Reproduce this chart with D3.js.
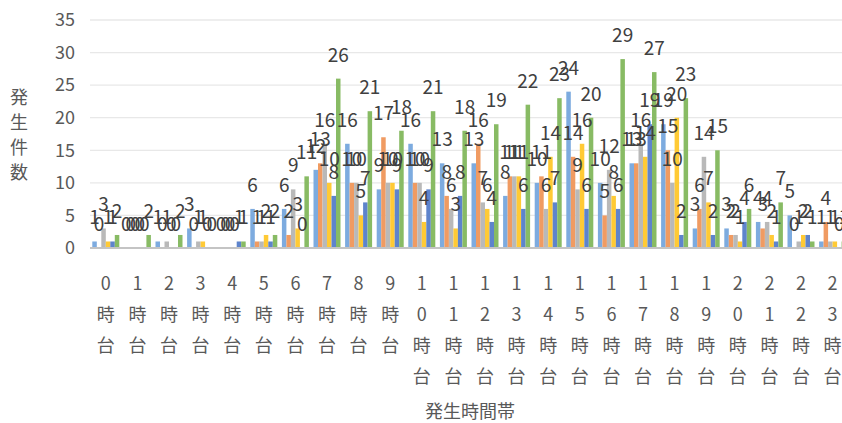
<!DOCTYPE html>
<html>
<head>
<meta charset="utf-8">
<script src="https://cdn.jsdelivr.net/npm/d3@7"></script>
<style>
body { margin: 0; background: #fff; }
svg { display: block; font-family: "Noto Sans CJK JP", "Noto Sans", sans-serif; }
</style>
</head>
<body>
<div id="chart"></div>
<script>
// hours 0..23
var hours = d3.range(24).map(function(h) { return h + "時台"; });
var yTicks = [0, 5, 10, 15, 20, 25, 30, 35];

var s1 = [1, 0, 1, 3, 0, 6, 6, 12, 16, 9, 16, 13, 13, 8, 10, 24, 10, 13, 19, 3, 3, 4, 5, 1];
var s2 = [0, 0, 0, 0, 0, 1, 2, 13, 10, 17, 10, 8, 16, 11, 11, 14, 5, 13, 15, 6, 2, 3, 0, 4];
var s3 = [3, 0, 1, 1, 0, 1, 9, 16, 10, 10, 10, 6, 7, 11, 6, 9, 12, 16, 10, 14, 2, 4, 1, 1];
var s4 = [1, 0, 0, 1, 0, 2, 3, 10, 5, 10, 4, 3, 6, 11, 14, 16, 8, 14, 20, 7, 1, 2, 2, 1];
var s5 = [1, 0, 0, 0, 1, 1, 0, 8, 7, 9, 9, 8, 4, 6, 7, 6, 6, 19, 2, 2, 4, 1, 2, 0];
var s6 = [2, 2, 2, 0, 1, 2, 11, 26, 21, 18, 21, 18, 19, 22, 23, 20, 29, 27, 23, 15, 6, 7, 1, 1];

var series = [s1, s2, s3, s4, s5, s6];
var colors = ["#7DABDF", "#F09B62", "#B9B9B9", "#FFCA35", "#5E84CC", "#88BB64"];

var width = 842, height = 423;
var svg = d3.select("#chart").append("svg")
    .attr("width", width)
    .attr("height", height);

var x = d3.scaleBand()
    .domain(hours)
    .range([90, 90 + 24 * 31.6]);

var xs = d3.scaleBand()
    .domain(d3.range(series.length))
    .range([2.3, x.bandwidth() - 2.3]);

var y = d3.scaleLinear()
    .domain([0, 35])
    .range([248, 20]);

// gridlines
svg.append("g")
    .selectAll("line")
    .data(yTicks.slice(1))
    .join("line")
    .attr("x1", 90)
    .attr("x2", width)
    .attr("y1", function(d) { return y(d); })
    .attr("y2", function(d) { return y(d); })
    .attr("stroke", "#E8E8E8")
    .attr("stroke-width", 1.3);

// y axis labels
svg.append("g")
    .selectAll("text")
    .data(yTicks)
    .join("text")
    .attr("x", 75)
    .attr("y", function(d) { return y(d); })
    .attr("dy", "0.35em")
    .attr("text-anchor", "end")
    .attr("font-size", 18)
    .attr("fill", "#595959")
    .text(function(d) { return d; });

// bars
var groups = svg.append("g")
    .selectAll("g")
    .data(series)
    .join("g")
    .attr("fill", function(d, i) { return colors[i]; });

groups.selectAll("rect")
    .data(function(d, i) { return d.map(function(v, j) { return { s: i, h: hours[j], v: v }; }); })
    .join("rect")
    .attr("x", function(d) { return x(d.h) + xs(d.s); })
    .attr("width", xs.bandwidth())
    .attr("y", function(d) { return y(d.v); })
    .attr("height", function(d) { return y(0) - y(d.v); });

// baseline
svg.append("line")
    .attr("x1", 90).attr("x2", width)
    .attr("y1", y(0)).attr("y2", y(0))
    .attr("stroke", "#C4C4C4")
    .attr("stroke-width", 2.2);

// data labels
var labels = svg.append("g");
series.forEach(function(s, i) {
  labels.selectAll("text.s" + i)
    .data(s)
    .join("text")
    .attr("class", "s" + i)
    .attr("x", function(d, j) { return x(hours[j]) + xs(i) + xs.bandwidth() / 2; })
    .attr("y", function(d) { return y(d) - 17; })
    .attr("text-anchor", "middle")
    .attr("font-size", 19)
    .attr("fill", "#404040")
    .text(function(d) { return d; });
});

// x tick labels, one character per line
var tick = svg.append("g")
    .selectAll("text")
    .data(hours)
    .join("text")
    .attr("text-anchor", "middle")
    .attr("font-size", 18)
    .attr("fill", "#595959");

tick.selectAll("tspan")
    .data(function(d) { return d.split("").map(function(c, k) { return { c: c, k: k, h: d }; }); })
    .join("tspan")
    .attr("x", function(d) { return x(d.h) + x.bandwidth() / 2; })
    .attr("y", function(d) { return 290 + d.k * 31; })
    .text(function(d) { return d.c; });

// axis titles
svg.append("text")
    .attr("x", 470)
    .attr("y", 418)
    .attr("text-anchor", "middle")
    .attr("font-size", 18)
    .attr("fill", "#595959")
    .text("発生時間帯");

svg.append("text")
    .attr("text-anchor", "middle")
    .attr("font-size", 18)
    .attr("fill", "#595959")
    .selectAll("tspan")
    .data("発生件数".split(""))
    .join("tspan")
    .attr("x", 19)
    .attr("y", function(d, k) { return 104 + k * 25; })
    .text(function(d) { return d; });
</script>
</body>
</html>
